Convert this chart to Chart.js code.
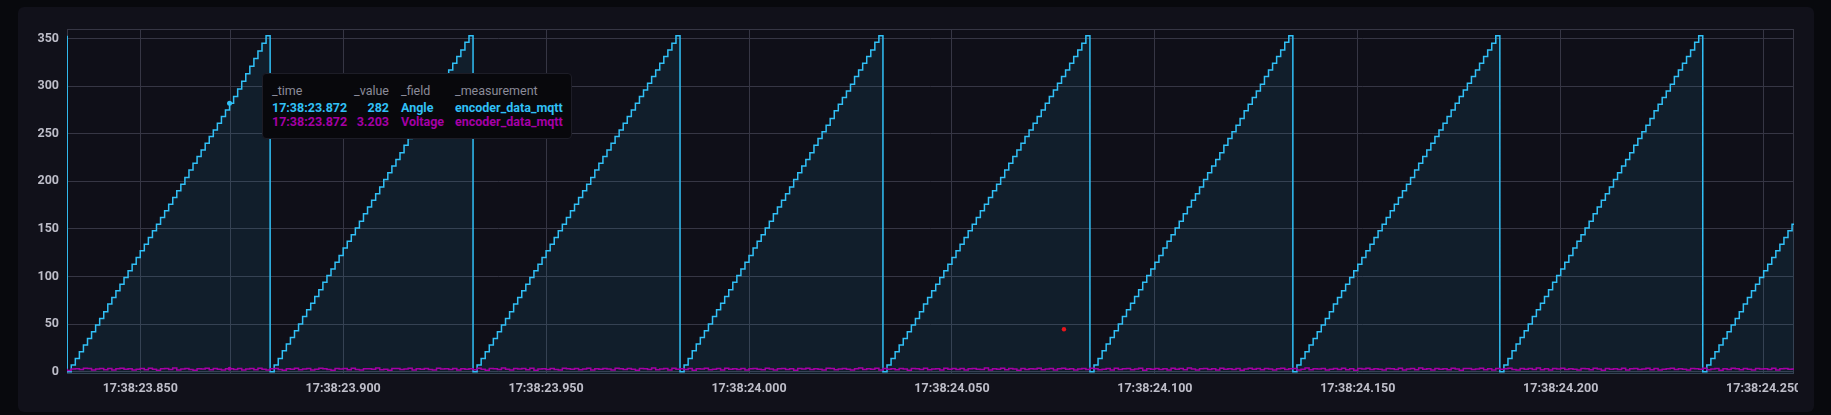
<!DOCTYPE html>
<html>
<head>
<meta charset="utf-8">
<title>encoder_data_mqtt</title>
<script src="https://cdn.jsdelivr.net/npm/chart.js@4.4.1/dist/chart.umd.min.js"></script>
<style>
  html, body { margin: 0; padding: 0; }
  body { width: 1831px; height: 415px; background: #08090d; overflow: hidden; position: relative; font-family: Roboto, sans-serif; }
  #panel { position: absolute; left: 18px; top: 7px; width: 1796px; height: 405px; background: #11111a; border-radius: 6px; }
  #chart { position: absolute; left: 18px; top: 7px; }
  #tip { position: absolute; left: 262px; top: 74px; width: 310px; height: 66px; box-sizing: border-box;
         background: #08080c; border: 1px solid #1d1d27; border-radius: 4px; font-size: 12.5px; line-height: 14px; }
  #tip span { position: absolute; white-space: nowrap; }
  #tip .h { color: #8b8b99; font-weight: normal; top: 10px; }
  #tip .r1 { color: #31C0F6; font-weight: bold; top: 27px; }
  #tip .r2 { color: #A500A5; font-weight: bold; top: 41px; }
  #tip .c1 { left: 9px; }
  #tip .c2 { right: 182px; text-align: right; }
  #tip .c3 { left: 138px; }
  #tip .c4 { left: 192px; }
</style>
</head>
<body>
<div id="panel"></div>
<canvas id="chart" width="1780" height="405"></canvas>
<div id="tip">
  <span class="h c1">_time</span><span class="h c2">_value</span><span class="h c3">_field</span><span class="h c4">_measurement</span>
  <span class="r1 c1" id="t1"></span><span class="r1 c2" id="v1"></span><span class="r1 c3">Angle</span><span class="r1 c4">encoder_data_mqtt</span>
  <span class="r2 c1" id="t2"></span><span class="r2 c2" id="v2"></span><span class="r2 c3">Voltage</span><span class="r2 c4">encoder_data_mqtt</span>
</div>
<script>
// samples every 1 ms, time in ms after 17:38:00.000
const sampleStart = 23831;
const sampleStepMs = 1;

// Angle, one line per sawtooth turn
const angleCycles = [
  [352],
  [0,7,14,21,28,35,42,49,56,63,71,78,85,92,99,106,113,120,127,134,141,148,155,162,169,176,183,190,197,204,212,219,226,233,240,247,254,261,268,275,282,289,297,305,313,321,329,337,345,353],
  [0,7,14,22,29,36,43,50,58,65,72,79,86,94,101,108,115,122,130,137,144,151,158,166,173,180,187,194,202,209,216,223,230,238,245,252,259,266,274,281,288,295,302,310,317,324,331,338,346,353],
  [0,7,14,21,28,35,42,49,56,63,71,78,85,92,99,106,113,120,127,134,141,148,155,162,169,176,183,190,197,204,212,219,226,233,240,247,254,261,268,275,282,289,296,303,310,317,324,331,338,345,353],
  [0,7,14,22,29,36,43,50,58,65,72,79,86,94,101,108,115,122,130,137,144,151,158,166,173,180,187,194,202,209,216,223,230,238,245,252,259,266,274,281,288,295,302,310,317,324,331,338,346,353],
  [0,7,14,21,28,35,42,49,56,63,71,78,85,92,99,106,113,120,127,134,141,148,155,162,169,176,183,190,197,204,212,219,226,233,240,247,254,261,268,275,282,289,296,303,310,317,324,331,338,345,353],
  [0,7,14,22,29,36,43,50,58,65,72,79,86,94,101,108,115,122,130,137,144,151,158,166,173,180,187,194,202,209,216,223,230,238,245,252,259,266,274,281,288,295,302,310,317,324,331,338,346,353],
  [0,7,14,21,28,35,42,49,56,63,71,78,85,92,99,106,113,120,127,134,141,148,155,162,169,176,183,190,197,204,212,219,226,233,240,247,254,261,268,275,282,289,296,303,310,317,324,331,338,345,353],
  [0,7,14,22,29,36,43,50,58,65,72,79,86,94,101,108,115,122,130,137,144,151,158,166,173,180,187,194,202,209,216,223,230,238,245,252,259,266,274,281,288,295,302,310,317,324,331,338,346,353],
  [0,7,14,21,28,35,42,49,56,63,71,78,85,92,99,106,113,120,127,134,141,148,155,162]
];
const angle = angleCycles.flat();

const voltage = [
  2.4,1.3,2.9,3.1,2.2,3.6,3.4,1.9,2.8,3.5,2.1,3.3,1.7,3.0,3.6,2.5,3.2,1.8,2.7,3.4,
  2.0,3.7,2.6,1.5,3.1,3.3,2.3,3.8,1.9,2.9,3.5,2.2,1.6,3.2,2.8,3.6,2.0,3.4,2.5,1.8,
  3.0,3.203,2.4,3.5,1.7,2.9,3.3,2.1,3.7,2.6,1.9,3.2,3.4,2.3,1.6,3.1,2.7,3.6,2.0,2.9,
  3.4,1.8,2.6,3.7,3.1,2.2,1.5,3.3,2.8,3.5,2.0,3.6,2.4,1.7,3.2,3.0,2.5,3.8,2.1,2.7,
  1.6,3.3,3.5,2.3,2.9,3.6,1.9,3.1,2.6,3.4,2.2,1.8,3.7,2.8,3.0,2.4,3.5,1.7,3.2,2.6,
  3.1,2.0,3.6,2.7,1.5,3.4,3.0,2.3,3.8,2.5,1.9,3.3,2.8,3.5,2.1,3.7,1.6,2.9,3.2,2.4,
  3.5,2.2,1.8,3.6,3.1,2.6,3.4,2.0,2.9,3.7,1.7,3.2,2.5,3.3,2.8,1.9,3.6,3.0,2.3,3.4,
  2.7,1.6,3.5,3.1,2.4,3.8,2.1,2.9,3.3,1.8,3.6,2.6,3.0,2.2,3.4,1.5,3.2,2.8,3.7,2.0,
  2.5,3.3,1.9,3.6,2.7,3.1,2.3,3.5,1.7,3.0,3.4,2.6,2.1,3.7,2.9,1.8,3.2,3.5,2.4,3.0,
  1.6,3.4,2.8,3.6,2.2,3.1,2.5,1.9,3.7,3.3,2.0,2.9,3.5,2.6,1.7,3.2,3.8,2.3,3.0,2.7,
  3.6,1.8,3.3,2.5,3.1,2.1,3.5,2.8,1.6,3.4,3.0,2.4,3.7,2.0,2.9,3.2,1.9,3.6,2.6,3.3,
  2.2,3.5,1.7,3.0,3.4,2.7,2.3,3.8,1.8,3.1,2.6,3.6,2.0,3.3,2.9,1.5,3.5,2.4,3.2,2.8,
  3.7,2.1,2.9,3.4,1.9,3.0,3.6,2.5,3.2,1.7,2.8,3.5,2.2,3.7,3.1,2.0,2.6,3.3,1.8,3.6,
  2.4,3.1,3.5,2.0,2.8,3.7,1.6,3.2,2.7,3.4,2.3,3.0,1.9,3.6,2.5,3.3,2.1,3.8,2.9,1.7,
  3.2,3.5,2.4,3.0,1.8,3.6,2.7,3.1,2.2,3.4,1.6,2.9,3.7,2.5,3.3,2.0,3.5,2.8,1.9,3.1,
  3.6,2.3,3.0,3.4,1.7,2.6,3.8,2.1,3.2,2.9,3.5,1.8,2.7,3.3,2.4,3.6,2.0,3.1,1.5,3.4,
  2.8,3.7,2.2,3.0,2.6,1.9,3.5,3.2,2.4,3.6,1.7,2.9,3.3,2.1,3.8,2.7,3.0,1.8,3.4,2.5,
  3.1,2.0,3.6,2.8,1.6,3.3,3.5,2.3,2.9,3.7,2.1,3.2,1.9,3.4,2.6,3.0,3.6,2.2,1.8,3.5,
  2.7,3.3,2.4,3.8,2.0,3.1,1.7,3.4,2.9,3.6,2.3,3.0,2.5,1.9,3.5,3.2,2.1,3.7,2.8,1.6,
  3.4,2.6,3.1,2.2,3.6,1.8,3.0,3.5,2.4,2.9,3.7,2.0,3.3,1.7,2.7,3.2,3.6,2.3,3.0,2.5,
  1.9,3.4,3.1,2.6,3.7,2.1,2.8,3.5,1.6,3.2,2.4,3.6,3.0,2.0,3.3,2.7,1.8,3.5,2.9,3.1,
  2.2,3.6,1.7,3.0,3.4,2.5,2.8,3.3
];

// single red point
const marker = [{ x: 24077.6, y: 44.6 }];

const xTicks = [23850, 23900, 23950, 24000, 24050, 24100, 24150, 24200, 24250];
const yTicks = [0, 50, 100, 150, 200, 250, 300, 350];

const hoverTime = 23872;

const gridColor = '#363644';
const labelColor = '#bdbdc8';

function fmtTime(ms) {
  const s = Math.floor(ms / 1000);
  const r = Math.round(ms - s * 1000);
  return '17:38:' + String(s).padStart(2, '0') + '.' + String(r).padStart(3, '0');
}

const times = angle.map((_, i) => sampleStart + i * sampleStepMs);
const hoverIdx = times.indexOf(hoverTime);

document.getElementById('t1').textContent = fmtTime(hoverTime);
document.getElementById('t2').textContent = fmtTime(hoverTime);
document.getElementById('v1').textContent = angle[hoverIdx];
document.getElementById('v2').textContent = voltage[hoverIdx].toFixed(3);

const tip = document.getElementById('tip');

const panelPlugin = {
  id: 'panel',
  beforeDraw(chart) {
    const { ctx, chartArea: a } = chart;
    ctx.save();
    ctx.fillStyle = '#0f0f18';
    ctx.fillRect(a.left, a.top, a.right - a.left, a.bottom - a.top);
    ctx.restore();
  },
  beforeDatasetsDraw(chart) {
    const { ctx, chartArea: a, scales } = chart;
    ctx.save();
    ctx.strokeStyle = gridColor;
    ctx.lineWidth = 1;
    ctx.strokeRect(a.left + 0.5, a.top + 0.5, a.right - a.left - 1, a.bottom - a.top - 1);
    // hover crosshair
    const hx = Math.round(scales.x.getPixelForValue(hoverTime)) + 0.5;
    ctx.beginPath();
    ctx.moveTo(hx, a.top);
    ctx.lineTo(hx, a.bottom);
    ctx.stroke();
    ctx.restore();
  },
  afterDatasetsDraw(chart) {
    const { ctx, scales } = chart;
    const hx = scales.x.getPixelForValue(hoverTime);
    ctx.save();
    ctx.fillStyle = '#A500A5';
    ctx.beginPath();
    ctx.arc(hx, scales.y.getPixelForValue(voltage[hoverIdx]), 2, 0, Math.PI * 2);
    ctx.fill();
    ctx.fillStyle = '#31C0F6';
    ctx.beginPath();
    ctx.arc(hx, scales.y.getPixelForValue(angle[hoverIdx]), 2.5, 0, Math.PI * 2);
    ctx.fill();
    ctx.restore();
  },
  afterDraw(chart) {
    const { scales, canvas } = chart;
    const px = scales.x.getPixelForValue(hoverTime);
    const py = scales.y.getPixelForValue(angle[hoverIdx]);
    tip.style.left = Math.round(canvas.offsetLeft + px + 32) + 'px';
    tip.style.top = Math.round(canvas.offsetTop + py - 30) + 'px';
  }
};

Chart.defaults.font.family = 'Roboto, sans-serif';

new Chart(document.getElementById('chart'), {
  type: 'line',
  data: {
    datasets: [
      {
        label: 'marker',
        data: marker,
        showLine: false,
        pointRadius: 2.2,
        pointBorderWidth: 0,
        pointBackgroundColor: '#e8161c',
        order: 0
      },
      {
        label: 'Voltage',
        data: times.map((t, i) => ({ x: t, y: voltage[i] })),
        borderColor: '#A500A5',
        borderWidth: 1.5,
        stepped: true,
        pointRadius: 0,
        fill: false,
        order: 1
      },
      {
        label: 'Angle',
        data: times.map((t, i) => ({ x: t, y: angle[i] })),
        borderColor: '#31C0F6',
        backgroundColor: 'rgba(49,192,246,0.09)',
        borderWidth: 1.5,
        stepped: true,
        pointRadius: 0,
        fill: 'start',
        order: 2
      }
    ]
  },
  options: {
    responsive: false,
    animation: false,
    events: [],
    layout: { padding: { top: 22, right: 1, bottom: 0, left: 0 } },
    plugins: {
      legend: { display: false },
      tooltip: { enabled: false }
    },
    scales: {
      x: {
        type: 'linear',
        min: 23831.95,
        max: 24257.48,
        afterBuildTicks: s => { s.ticks = xTicks.map(v => ({ value: v })); },
        afterFit: s => { s.height = 38; s.paddingLeft = 0; s.paddingRight = 0; },
        grid: { color: gridColor, drawTicks: false },
        border: { display: false },
        ticks: {
          autoSkip: false,
          maxRotation: 0,
          padding: 7,
          color: labelColor,
          font: { size: 12.5, weight: 'bold' },
          callback: v => fmtTime(v)
        }
      },
      y: {
        min: -2.4,
        max: 360,
        afterBuildTicks: s => { s.ticks = yTicks.map(v => ({ value: v })); },
        afterFit: s => { s.width = 49; },
        grid: { color: gridColor, drawTicks: false },
        border: { display: false },
        ticks: {
          padding: 8,
          color: labelColor,
          font: { size: 12.5, weight: 'bold' }
        }
      }
    }
  },
  plugins: [panelPlugin]
});
</script>
</body>
</html>
